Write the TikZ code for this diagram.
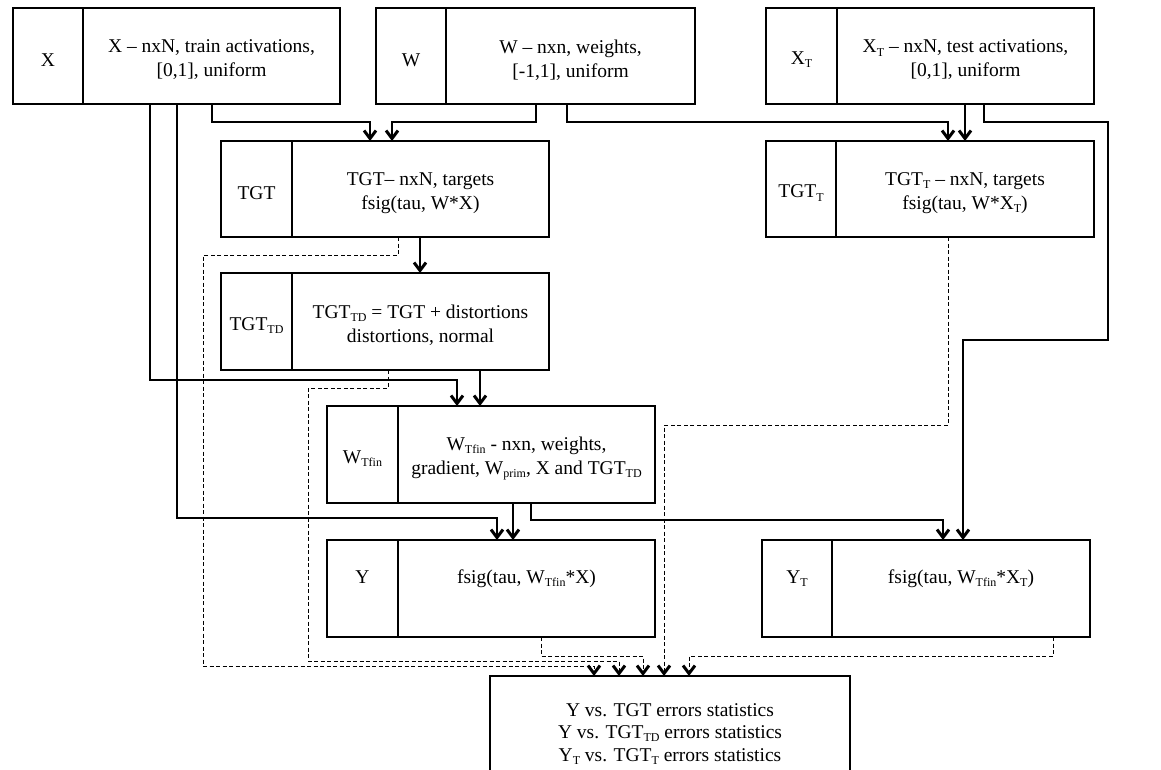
\documentclass[tikz,border=0pt]{standalone}
\usepackage{fontspec}
\setmainfont{Liberation Serif}
\usetikzlibrary{arrows.meta}
\newcommand\sbs[1]{\raisebox{-0.35ex}{\fontsize{12}{12}\selectfont #1}}
\newcommand\tbox[8]{%
  \node[boxst, minimum width={#4-#2}, minimum height={#5-#3}] (#1) at (#2,#3) {};
  \draw[divst] (#6,#3) -- (#6,#5);
  \node[txt] (#1-l) at ({(#2+#6)/2},{(#3+#5)/2+4}) {#7};
  \node[txt] (#1-t) at ({(#6+#4)/2},{(#3+#5)/2+4}) {#8};
}
\begin{document}
\begin{tikzpicture}[x=1pt,y=-1pt,
  boxst/.style={draw, line width=1.3pt, anchor=north west, inner sep=0pt, outer sep=0pt},
  divst/.style={line width=2pt},
  txt/.style={align=center, inner sep=0pt, font=\fontsize{19.5}{24}\selectfont},
  arr/.style={line width=1.2pt, -{Straight Barb[length=8pt,width=12pt,line width=3pt]}},
  darr/.style={line width=1pt, dash pattern=on 4pt off 2.5pt, -{Straight Barb[length=8pt,width=12pt,line width=3pt]}}]
\useasboundingbox (0,0) rectangle (1161,769);
\tbox{X}{13}{8}{340}{104}{83}{X}{X -- nxN, train activations,\\ {[}0,1], uniform}
\tbox{W}{376}{8}{695}{104}{446}{W}{W -- nxn, weights,\\ {[}-1,1], uniform}
\tbox{XT}{766}{8}{1094}{104}{837}{X\sbs{T}}{X\sbs{T} -- nxN, test activations,\\ {[}0,1], uniform}
\tbox{TGT}{221}{141}{549}{237}{292}{TGT}{TGT-- nxN, targets\\ fsig(tau, W*X)}
\tbox{TGTT}{766}{141}{1094}{237}{836}{TGT\sbs{T}}{TGT\sbs{T} -- nxN, targets\\ fsig(tau, W*X\sbs{T})}
\tbox{TGTTD}{221}{273}{549}{370}{292}{TGT\sbs{TD}}{TGT\sbs{TD} = TGT + distortions\\ distortions, normal}
\tbox{WT}{327}{406}{655}{503}{398}{W\sbs{Tfin}}{W\sbs{Tfin} - nxn, weights,\\ gradient, W\sbs{prim}, X and TGT\sbs{TD}}
\tbox{Y}{327}{540}{655}{637}{398}{Y\\ \strut}{fsig(tau, W\sbs{Tfin}*X)\\ \strut}
\tbox{YT}{762}{540}{1090}{637}{832}{Y\sbs{T}\\ \strut}{fsig(tau, W\sbs{Tfin}*X\sbs{T})\\ \strut}
\node[boxst, minimum width=360, minimum height=120] (S) at (490,676) {};
\node[txt, anchor=north, font=\fontsize{19.5}{22.5}\selectfont] (S-t) at ([yshift=-27pt]S.north) {Y vs. TGT errors statistics\\ Y vs. TGT\sbs{TD} errors statistics\\ Y\sbs{T} vs. TGT\sbs{T} errors statistics};
\coordinate (r1) at (1108,340);
\coordinate (c1) at (203,666);
\coordinate (c2) at (308,661);
% solid connectors
\draw[arr] ([xshift=199pt]X.south west) -- ++(0,18) -| ([xshift=149pt]TGT.north west);
\draw[arr] ([xshift=160pt]W.south west) -- ++(0,18) -| ([xshift=171pt]TGT.north west);
\draw[arr] ([xshift=191pt]W.south west) -- ++(0,18) -| ([xshift=182pt]TGTT.north west);
\draw[arr] ([xshift=199pt]XT.south west) -- ([xshift=199pt]TGTT.north west);
\draw[arr] ([xshift=218pt]XT.south west) -- ++(0,18) -| (r1) -| ([xshift=201pt]YT.north west);
\draw[arr] ([xshift=199pt]TGT.south west) -- ([xshift=199pt]TGTTD.north west);
\draw[arr] ([xshift=137pt]X.south west) -- ++(0,276) -| ([xshift=130pt]WT.north west);
\draw[arr] ([xshift=259pt]TGTTD.south west) -- ([xshift=153pt]WT.north west);
\draw[arr] ([xshift=164pt]X.south west) -- ++(0,414) -| ([xshift=170pt]Y.north west);
\draw[arr] ([xshift=186pt]WT.south west) -- ([xshift=186pt]Y.north west);
\draw[arr] ([xshift=204pt]WT.south west) -- ++(0,17) -| ([xshift=181pt]YT.north west);
% dashed connectors
\draw[darr] ([xshift=177pt]TGT.south west) -- ++(0,18) -| (c1) -| ([xshift=104pt]S.north west);
\draw[darr] ([xshift=167pt]TGTTD.south west) -- ++(0,18) -| (c2) -| ([xshift=129pt]S.north west);
\draw[darr] ([xshift=214pt]Y.south west) -- ++(0,19) -| ([xshift=153pt]S.north west);
\draw[darr] ([xshift=182pt]TGTT.south west) -- ++(0,188) -| ([xshift=174pt]S.north west);
\draw[darr] ([xshift=291pt]YT.south west) -- ++(0,19) -| ([xshift=199pt]S.north west);
\end{tikzpicture}
\end{document}
